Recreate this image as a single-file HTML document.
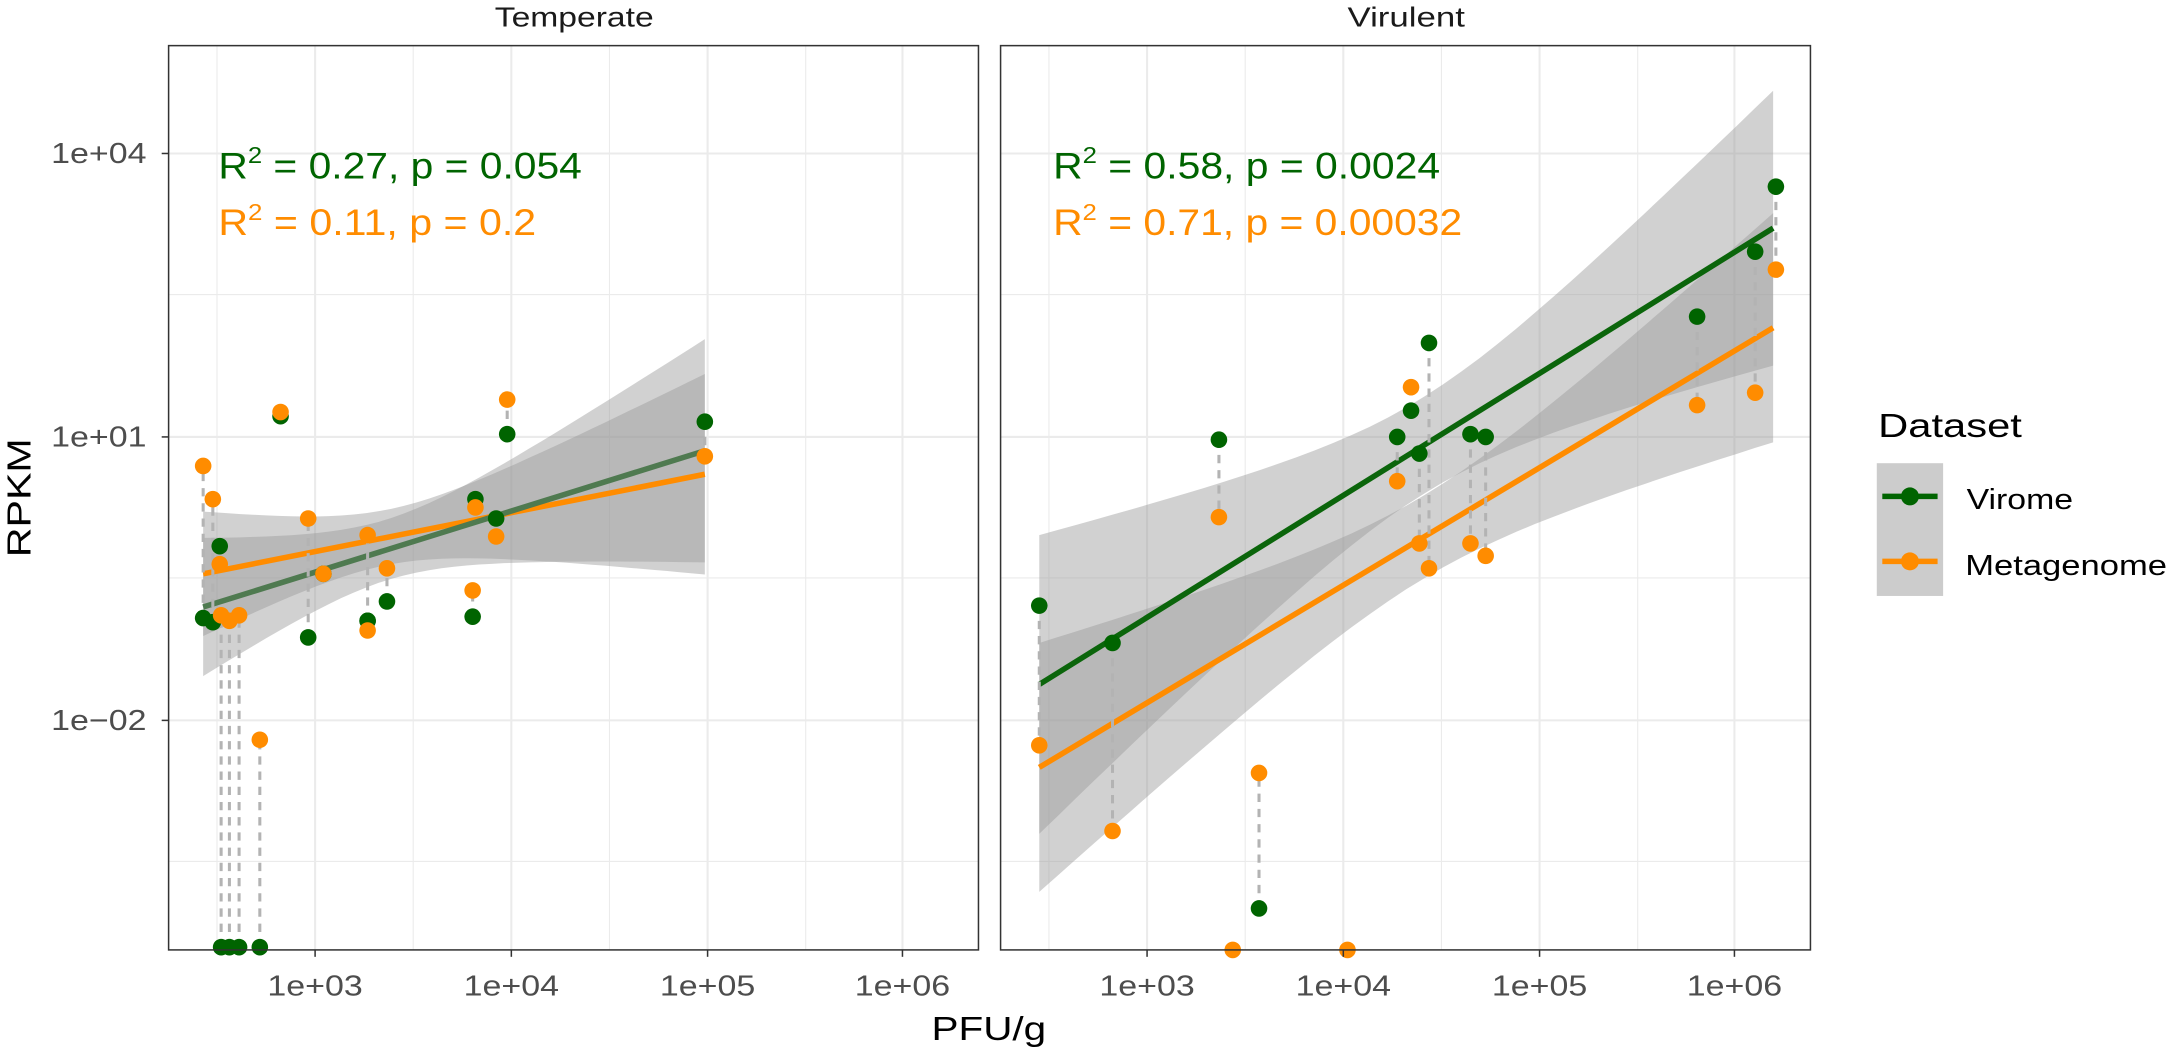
<!DOCTYPE html>
<html><head><meta charset="utf-8"><style>
html,body{margin:0;padding:0;background:#fff}
svg{display:block}
text{font-family:"Liberation Sans",Arial,sans-serif}
</style></head><body>
<svg id="s" width="2167" height="1055" viewBox="0 0 1568 763" preserveAspectRatio="none" xmlns="http://www.w3.org/2000/svg">
<rect width="1568" height="763" fill="#fff"/>
<g id="grid"></g>
<g id="rib"></g>
<g id="lines"></g>
<g id="dash"></g>
<g id="pts"></g>
<rect x="122" y="33" width="586" height="654" fill="none" stroke="#333" stroke-width="1.1"/>
<rect x="724" y="33" width="586" height="654" fill="none" stroke="#333" stroke-width="1.1"/>
<g id="ticks" stroke="#333" stroke-width="1.1"></g>
<g fill="#4d4d4d" font-size="21">
<text x="37" y="118" textLength="69" lengthAdjust="spacingAndGlyphs">1e+04</text>
<text x="37" y="323" textLength="69" lengthAdjust="spacingAndGlyphs">1e+01</text>
<text x="37" y="528" textLength="69" lengthAdjust="spacingAndGlyphs">1e−02</text>
</g>
<g fill="#4d4d4d" font-size="21" id="xl"></g>
<text x="674" y="752" font-size="24" fill="#000" textLength="83" lengthAdjust="spacingAndGlyphs">PFU/g</text>
<text transform="translate(22,403) rotate(-90)" font-size="24" fill="#000" textLength="86" lengthAdjust="spacingAndGlyphs">RPKM</text>
<text x="358" y="19" font-size="20" fill="#1a1a1a" textLength="115" lengthAdjust="spacingAndGlyphs">Temperate</text>
<text x="975" y="19" font-size="20" fill="#1a1a1a" textLength="85" lengthAdjust="spacingAndGlyphs">Virulent</text>
<g font-size="27">
<text x="158" y="129" fill="#006400" textLength="263" lengthAdjust="spacingAndGlyphs">R<tspan dy="-11" font-size="17">2</tspan><tspan dy="11"> = 0.27, p = 0.054</tspan></text>
<text x="158" y="170" fill="#FF8C00" textLength="230" lengthAdjust="spacingAndGlyphs">R<tspan dy="-11" font-size="17">2</tspan><tspan dy="11"> = 0.11, p = 0.2</tspan></text>
<text x="762" y="129" fill="#006400" textLength="280" lengthAdjust="spacingAndGlyphs">R<tspan dy="-11" font-size="17">2</tspan><tspan dy="11"> = 0.58, p = 0.0024</tspan></text>
<text x="762" y="170" fill="#FF8C00" textLength="296" lengthAdjust="spacingAndGlyphs">R<tspan dy="-11" font-size="17">2</tspan><tspan dy="11"> = 0.71, p = 0.00032</tspan></text>
</g>
<text x="1359" y="316" font-size="24" fill="#000" textLength="104" lengthAdjust="spacingAndGlyphs">Dataset</text>
<rect x="1358" y="335" width="48" height="96" fill="#999" fill-opacity="0.5"/>
<line x1="1362" y1="359" x2="1402" y2="359" stroke="#006400" stroke-width="4"/>
<circle cx="1382" cy="359" r="6.5" fill="#006400"/>
<line x1="1362" y1="406" x2="1402" y2="406" stroke="#FF8C00" stroke-width="4"/>
<circle cx="1382" cy="406" r="6.5" fill="#FF8C00"/>
<text x="1423" y="368" font-size="21" fill="#000" textLength="77" lengthAdjust="spacingAndGlyphs">Virome</text>
<text x="1422" y="416" font-size="21" fill="#000" textLength="146" lengthAdjust="spacingAndGlyphs">Metagenome</text>
</svg>
<script>
const NS="http://www.w3.org/2000/svg";
function el(p,t,a){const e=document.createElementNS(NS,t);for(const k in a)e.setAttribute(k,a[k]);document.getElementById(p).appendChild(e);return e;}
for(const off of [0,602]){
 const L=122+off,R=708+off;
 for(const y of [213,418,623]) el("grid","line",{x1:L,x2:R,y1:y,y2:y,stroke:"#ebebeb","stroke-width":0.8});
 for(const x of [157,299,441,583]) el("grid","line",{x1:x+off,x2:x+off,y1:33,y2:687,stroke:"#ebebeb","stroke-width":0.8});
 for(const y of [111,316,521]) el("grid","line",{x1:L,x2:R,y1:y,y2:y,stroke:"#ebebeb","stroke-width":1.5});
 const labs=["1e+03","1e+04","1e+05","1e+06"];
 [228,370,512,653].forEach((x,i)=>{
   el("grid","line",{x1:x+off,x2:x+off,y1:33,y2:687,stroke:"#ebebeb","stroke-width":1.5});
   el("ticks","line",{x1:x+off,x2:x+off,y1:687,y2:692});
   const t=el("xl","text",{x:x+off-34.5,y:720,textLength:69,lengthAdjust:"spacingAndGlyphs"});t.textContent=labs[i];});
}
for(const y of [111,316,521]) el("ticks","line",{x1:117,x2:122,y1:y,y2:y});
function rib(x0,x1,y0,y1,xc,hc,b2){
 let up=[],dn=[];
 for(let i=0;i<=40;i++){const x=x0+(x1-x0)*i/40;const c=y0+(y1-y0)*(x-x0)/(x1-x0);const h=Math.sqrt(hc*hc+b2*(x-xc)*(x-xc));up.push([x,Math.max(33,c-h)]);dn.push([x,Math.min(687,c+h)]);}
 const pts=up.concat(dn.reverse()).map(p=>p[0].toFixed(1)+","+p[1].toFixed(1)).join(" ");
 el("rib","polygon",{points:pts,fill:"#999","fill-opacity":0.45});
}
rib(147,510,439,326,280,22,0.114);
rib(147,510,415,343,280,20,0.0919);
rib(752,1283,495,165,1030,35,0.1351);
rib(752,1283,555,237,1030,30,0.0932);
el("lines","line",{x1:147,y1:415,x2:510,y2:343,stroke:"#FF8C00","stroke-width":4});
el("lines","line",{x1:147,y1:439,x2:510,y2:326,stroke:"#4f7a50","stroke-width":4});
el("lines","line",{x1:752,y1:495,x2:1283,y2:165,stroke:"#0b650b","stroke-width":4});
el("lines","line",{x1:752,y1:555,x2:1283,y2:237,stroke:"#FF8C00","stroke-width":4});
const pairs=[[147,447,337],[154,450,361],[159,395,408],[160,685,445],[166,685,449],[173,685,445],[188,685,535],[203,301,298],[223,461,375],[234,415,415],[266,449,387],[266,449,456],[280,435,411],[342,446,427],[344,361,367],[359,375,388],[367,314,289],[510,305,330],
[752,438,539],[805,465,601],[882,318,374],[1011,316,348],[1021,297,280],[1027,328,393],[1034,248,411],[1064,314,393],[1075,316,402],[1228,229,293],[1270,182,284],[1285,135,195],[911,657,559]];
for(const p of pairs) el("dash","line",{x1:p[0],x2:p[0],y1:p[1],y2:p[2],stroke:"#b3b3b3","stroke-width":2.2,"stroke-dasharray":"6,5"});
for(const p of pairs){el("pts","circle",{cx:p[0],cy:p[1],r:6,fill:"#006400"});}
for(const p of pairs){el("pts","circle",{cx:p[0],cy:p[2],r:6,fill:"#FF8C00"});}
el("pts","circle",{cx:892,cy:687,r:6,fill:"#FF8C00"});
el("pts","circle",{cx:975,cy:687,r:6,fill:"#FF8C00"});
</script>
</body></html>
